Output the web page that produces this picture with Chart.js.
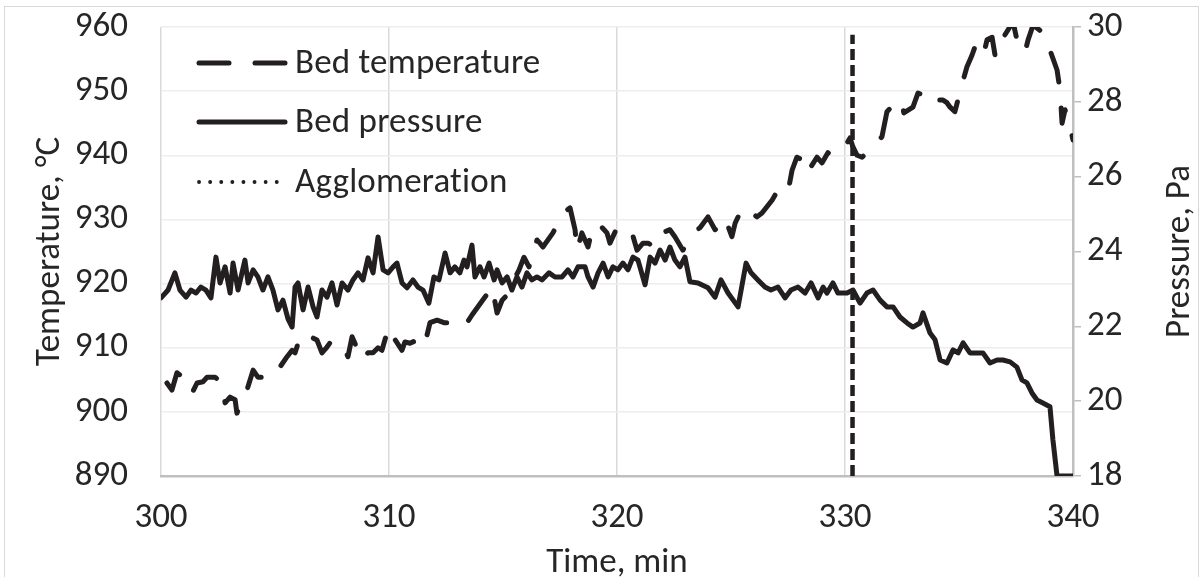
<!DOCTYPE html>
<html>
<head>
<meta charset="utf-8">
<script src="https://cdn.jsdelivr.net/npm/chart.js@4/dist/chart.umd.min.js"></script>
<style>
  html, body { margin: 0; padding: 0; background: #ffffff; }
  #wrap { width: 1203px; height: 577px; position: relative; }
</style>
</head>
<body>
<div id="wrap"><canvas id="chart" width="1203" height="577"></canvas></div>
<script>
// Bed temperature, °C (left axis)
const tempTime = [300.26,300.48,300.70,300.96,301.36,301.58,301.84,302.02,302.37,302.68,302.81,303.03,303.25,303.33,303.77,304.04,304.25,304.91,305.22,305.53,305.75,305.88,306.10,306.23,306.84,307.06,307.28,307.50,308.07,308.20,308.38,308.82,309.08,309.30,309.52,309.69,309.91,310.04,310.18,310.57,310.70,310.92,311.23,311.49,311.58,311.80,312.11,312.41,312.85,313.11,313.42,313.64,314.21,314.52,314.74,314.96,315.26,315.48,315.70,315.92,316.14,316.32,316.49,316.62,316.75,317.19,317.41,317.63,317.94,318.16,318.25,318.46,318.73,318.90,319.17,319.56,319.69,320.00,320.22,320.66,320.88,321.14,321.36,321.67,321.97,322.32,322.54,322.89,323.20,323.51,323.64,323.99,324.30,324.52,324.74,325.04,325.18,325.39,325.70,325.92,326.14,326.36,326.80,327.06,327.28,327.50,327.68,327.89,328.11,328.33,328.77,328.99,329.25,329.43,329.91,330.22,330.35,330.53,330.75,330.96,331.18,331.40,331.62,331.84,332.11,332.32,332.50,332.58,332.98,333.20,333.42,333.60,333.82,334.30,334.47,334.61,334.82,335.18,335.35,335.57,335.70,336.05,336.23,336.45,336.58,336.67,336.93,337.37,337.54,337.89,338.03,338.25,338.68,338.99,339.30,339.43,339.52,339.65,339.87,340.00];
const tempValues = [904.5,903.4,906.1,905.4,902.9,904.5,904.7,905.4,905.4,904.5,901.4,902.3,901.9,899.8,903.4,906.5,905.4,905.4,907.0,908.6,909.6,909.2,911.7,912.3,911.2,909.2,910.1,911.2,909.6,908.6,911.7,908.1,909.2,909.2,910.0,909.6,912.3,913.2,911.7,909.6,910.9,910.7,911.2,911.7,910.7,913.9,914.3,913.9,913.9,913.2,913.9,915.1,917.9,919.5,915.4,917.4,918.5,920.6,922.1,924.1,922.6,924.8,926.8,926.3,925.7,927.9,929.4,931.0,931.8,928.4,925.2,927.9,925.7,928.4,929.4,927.9,926.3,928.7,927.9,927.9,925.2,926.3,926.3,925.7,927.9,928.4,927.3,925.2,927.3,928.4,928.7,930.4,928.4,928.8,930.2,927.3,929.4,931.0,931.9,931.0,930.4,931.0,933.0,934.6,934.1,934.3,937.7,939.7,939.3,937.2,939.7,938.8,940.4,940.0,940.8,942.7,941.3,940.0,939.7,940.4,941.1,941.9,942.9,946.8,947.8,948.6,948.3,946.6,947.5,949.7,949.4,949.9,948.6,948.6,948.2,947.5,946.8,951.7,953.8,955.6,956.9,955.3,958.0,958.4,955.6,958.0,958.3,960.8,958.0,956.0,958.0,960.3,959.1,956.4,953.3,950.2,945.0,947.1,944.4,942.4];

// Bed pressure, Pa (right axis)
const presTime = [300.00,300.31,300.61,300.83,301.10,301.32,301.54,301.75,301.97,302.19,302.41,302.59,302.81,303.03,303.16,303.38,303.68,303.82,304.04,304.25,304.47,304.69,304.91,305.13,305.35,305.57,305.75,305.88,306.01,306.23,306.45,306.67,306.84,307.06,307.28,307.50,307.72,307.94,308.20,308.42,308.64,308.86,309.08,309.30,309.52,309.74,309.96,310.18,310.35,310.57,310.79,311.05,311.27,311.49,311.75,311.97,312.19,312.46,312.68,312.89,313.11,313.29,313.42,313.64,313.77,313.99,314.17,314.39,314.61,314.74,314.96,315.18,315.39,315.61,315.83,316.05,316.27,316.49,316.71,317.02,317.28,317.59,317.85,318.07,318.29,318.60,318.73,318.95,319.17,319.39,319.61,319.82,320.04,320.26,320.48,320.70,320.92,321.23,321.45,321.67,321.89,322.11,322.32,322.54,322.76,322.98,323.20,323.55,323.99,324.30,324.56,324.87,325.31,325.66,325.88,326.18,326.49,326.75,327.06,327.37,327.63,327.94,328.25,328.51,328.82,329.04,329.21,329.47,329.69,330.09,330.35,330.66,330.96,331.23,331.54,331.84,332.11,332.41,332.72,332.98,333.29,333.42,333.73,333.95,334.17,334.47,334.74,334.96,335.18,335.48,335.79,336.05,336.36,336.67,336.93,337.24,337.54,337.76,337.98,338.20,338.42,338.68,338.99,339.12,339.30,339.65,339.96];
const presValues = [22.76,22.97,23.43,22.97,22.78,22.97,22.89,23.05,22.97,22.76,23.85,23.16,23.59,22.89,23.69,22.97,23.77,23.16,23.51,23.32,22.97,23.32,22.97,22.44,22.70,22.20,21.98,23.05,23.16,22.44,23.05,22.52,22.25,22.97,22.78,23.16,22.57,23.16,22.97,23.24,23.43,23.24,23.83,23.43,24.39,23.51,23.43,23.59,23.69,23.16,23.03,23.24,23.05,22.97,22.62,23.32,23.24,23.96,23.43,23.59,23.43,23.77,23.59,24.17,23.32,23.59,23.32,23.69,23.24,23.51,23.16,23.32,22.97,23.32,23.05,23.43,23.24,23.32,23.24,23.43,23.32,23.32,23.51,23.32,23.59,23.59,23.32,23.05,23.43,23.69,23.32,23.59,23.51,23.69,23.51,23.85,23.77,23.11,23.85,23.69,24.04,23.77,24.12,23.77,23.59,23.85,23.19,23.16,23.03,22.78,23.24,22.89,22.52,23.69,23.43,23.24,23.05,22.97,23.05,22.76,22.97,23.05,22.89,23.16,22.76,23.05,22.89,23.16,22.89,22.89,22.97,22.62,22.89,22.97,22.70,22.52,22.52,22.25,22.09,21.98,22.09,22.36,21.82,21.64,21.10,21.02,21.37,21.29,21.56,21.29,21.29,21.29,21.02,21.10,21.10,21.05,20.91,20.57,20.49,20.22,20.03,19.95,19.85,18.96,18.00,18.00,18.00];

// Onset of agglomeration, min
const agglomerationTime = [330.33, 330.33];
const agglomerationSpan = [890, 958.8];

const seriesNames = ['Bed temperature', 'Bed pressure', 'Agglomeration'];
const timeTicks = [300, 310, 320, 330, 340];
const tempTicks = [890, 900, 910, 920, 930, 940, 950, 960];
const presTicks = [18, 20, 22, 24, 26, 28, 30];

const INK = '#231f20';
const TEXT = '#262626';
const FAMILY = "Calibri, Carlito, 'Open Sans', sans-serif";
const FONT_SIZE = 35;
const LINE_W = 5;

const pairs = (xs, ys) => xs.map((x, i) => ({ x, y: ys[i] }));

// Legend drawn inside the plot area, upper left
const insideLegend = {
  id: 'insideLegend',
  afterDatasetsDraw(chart) {
    const { ctx, chartArea: a } = chart;
    const rowsY = [36, 95, 155];
    const dashes = [[30, 26], [], [0.1, 11]];
    const widths = [LINE_W, LINE_W, 3.8];
    ctx.save();
    seriesNames.forEach((name, i) => {
      const y = a.top + rowsY[i];
      ctx.beginPath();
      ctx.setLineDash(dashes[i]);
      ctx.lineCap = 'round';
      ctx.lineWidth = widths[i];
      ctx.strokeStyle = INK;
      ctx.moveTo(a.left + 38, y);
      ctx.lineTo(a.left + 124, y);
      ctx.stroke();
      ctx.setLineDash([]);
      ctx.font = FONT_SIZE + 'px ' + FAMILY;
      if ('letterSpacing' in ctx) ctx.letterSpacing = '0.2px';
      ctx.fillStyle = TEXT;
      ctx.textBaseline = 'middle';
      ctx.textAlign = 'left';
      ctx.fillText(name, a.left + 134, y + 1);
    });
    ctx.restore();
  }
};

// Secondary axis title, read bottom to top like the primary one
const rightTitle = {
  id: 'rightTitle',
  afterDraw(chart) {
    const { ctx, chartArea: a } = chart;
    ctx.save();
    ctx.translate(1180, (a.top + a.bottom) / 2);
    ctx.rotate(-Math.PI / 2);
    ctx.font = FONT_SIZE + 'px ' + FAMILY;
    ctx.fillStyle = TEXT;
    ctx.textAlign = 'center';
    ctx.textBaseline = 'middle';
    ctx.fillText('Pressure, Pa', 0, 0);
    ctx.restore();
  }
};

// Light frame around the whole figure
const frame = {
  id: 'frame',
  beforeDraw(chart) {
    const { ctx } = chart;
    ctx.save();
    ctx.strokeStyle = '#d9d9d9';
    ctx.lineWidth = 1;
    ctx.strokeRect(4.5, 6.5, chart.width - 9, chart.height - 6);
    ctx.restore();
  }
};

new Chart(document.getElementById('chart'), {
  type: 'line',
  data: {
    datasets: [
      {
        label: seriesNames[0],
        data: pairs(tempTime, tempValues),
        yAxisID: 'y',
        borderColor: INK,
        borderWidth: LINE_W,
        borderDash: [30, 26],
        borderCapStyle: 'round',
        borderJoinStyle: 'round',
        pointRadius: 0,
        tension: 0
      },
      {
        label: seriesNames[1],
        data: pairs(presTime, presValues),
        yAxisID: 'y2',
        borderColor: INK,
        borderWidth: LINE_W,
        borderCapStyle: 'round',
        borderJoinStyle: 'round',
        pointRadius: 0,
        tension: 0
      },
      {
        label: seriesNames[2],
        data: pairs(agglomerationTime, agglomerationSpan),
        yAxisID: 'y',
        borderColor: INK,
        borderWidth: 4.5,
        borderDash: [11, 5],
        borderCapStyle: 'butt',
        pointRadius: 0
      }
    ]
  },
  options: {
    responsive: false,
    animation: false,
    events: [],
    layout: { padding: { top: 27, left: 0, right: 0, bottom: 0 } },
    plugins: { legend: { display: false }, tooltip: { enabled: false } },
    scales: {
      x: {
        type: 'linear',
        min: 300, max: 340,
        afterBuildTicks: s => { s.ticks = timeTicks.map(v => ({ value: v })); },
        afterFit: s => { s.height = 101; },
        grid: { color: '#d9d9d9', lineWidth: 1.5, drawTicks: true, tickLength: 21, tickColor: 'rgba(0,0,0,0)' },
        border: { display: true, color: '#bfbfbf', width: 2.5 },
        ticks: { color: TEXT, font: { family: FAMILY, size: FONT_SIZE }, padding: 0, maxRotation: 0 },
        title: { display: true, text: 'Time, min', color: TEXT, font: { family: FAMILY, size: FONT_SIZE }, padding: { top: 0, bottom: -7 } }
      },
      y: {
        position: 'left',
        min: 890, max: 960,
        afterBuildTicks: s => { s.ticks = tempTicks.map(v => ({ value: v })); },
        afterFit: s => { s.width = 161; },
        grid: { color: '#ededed', lineWidth: 1.5, drawTicks: true, tickLength: 33, tickColor: 'rgba(0,0,0,0)' },
        border: { display: false },
        ticks: { color: TEXT, font: { family: FAMILY, size: FONT_SIZE }, padding: 0 },
        title: { display: true, text: 'Temperature, °C', color: TEXT, font: { family: FAMILY, size: FONT_SIZE }, padding: { top: 29, bottom: 0 } }
      },
      y2: {
        position: 'right',
        min: 18, max: 30,
        afterBuildTicks: s => { s.ticks = presTicks.map(v => ({ value: v })); },
        afterFit: s => { s.width = 130; },
        grid: { drawOnChartArea: false, drawTicks: true, tickLength: 8, color: '#bfbfbf', lineWidth: 1.5 },
        border: { display: true, color: '#bfbfbf', width: 2.5 },
        ticks: { color: TEXT, font: { family: FAMILY, size: FONT_SIZE }, padding: 6 },
        title: { display: false }
      }
    }
  },
  plugins: [frame, insideLegend, rightTitle]
});
</script>
</body>
</html>
